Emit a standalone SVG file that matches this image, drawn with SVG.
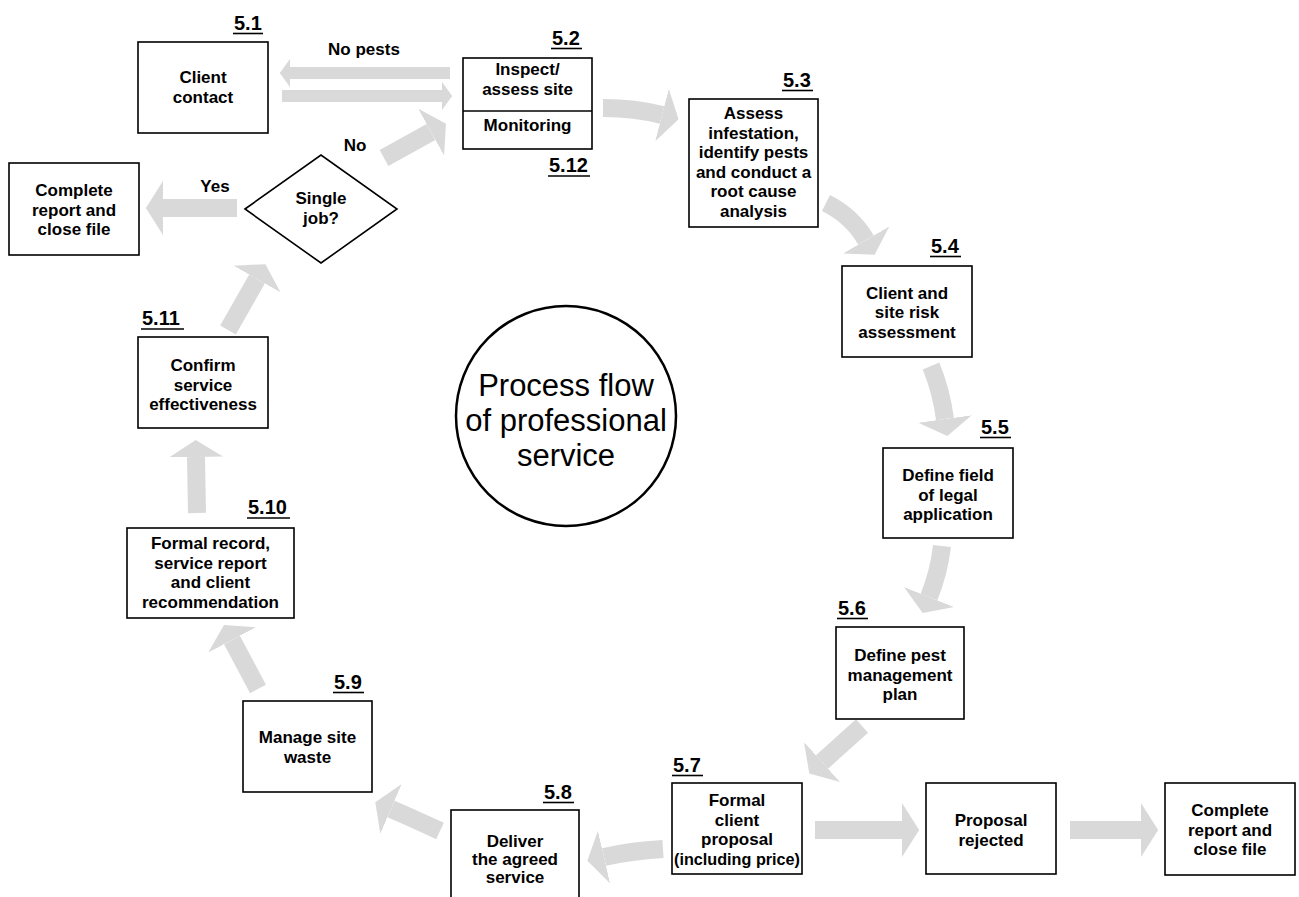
<svg xmlns="http://www.w3.org/2000/svg" width="1299" height="897" viewBox="0 0 1299 897">
<style>
.box{fill:#fff;stroke:#000;stroke-width:1.6}
.t{font-family:"Liberation Sans",Arial,sans-serif;font-size:17px;font-weight:bold;text-anchor:middle;fill:#000}
.lbl{font-family:"Liberation Sans",Arial,sans-serif;font-size:20px;font-weight:bold;fill:#000}
.ul{stroke:#000;stroke-width:1.6}
.ar{fill:none;stroke:#d9d9d9;stroke-width:18}
.as{fill:none;stroke:#d9d9d9;stroke-width:12}
.c{font-family:"Liberation Sans",Arial,sans-serif;font-size:31px;text-anchor:middle;fill:#000}
</style>
<defs>
<marker id="hb" viewBox="0 0 10 10" refX="0" refY="5" markerUnits="strokeWidth" markerWidth="0.95" markerHeight="3" orient="auto" preserveAspectRatio="none"><path d="M0,0 L10,5 L0,10 z" fill="#d9d9d9"/></marker>
<marker id="hs" viewBox="0 0 10 10" refX="0" refY="5" markerUnits="strokeWidth" markerWidth="0.85" markerHeight="2.35" orient="auto" preserveAspectRatio="none"><path d="M0,0 L10,5 L0,10 z" fill="#d9d9d9"/></marker>
</defs>
<rect width="1299" height="897" fill="#fff"/>
<g id="connectors">
<path class="as" d="M450,73 L290,73" marker-end="url(#hs)"/>
<path class="as" d="M282,96 L442,96" marker-end="url(#hs)"/>
<path class="ar" d="M603,108 Q635,108 662,115" marker-end="url(#hb)"/>
<path class="ar" d="M826,203 Q852,216 866,240" marker-end="url(#hb)"/>
<path class="ar" d="M931,366 Q941,390 945,419" marker-end="url(#hb)"/>
<path class="ar" d="M942,546 Q939,572 929,597" marker-end="url(#hb)"/>
<path class="ar" d="M862,726 L822,762" marker-end="url(#hb)"/>
<path class="ar" d="M815,830 L902,830" marker-end="url(#hb)"/>
<path class="ar" d="M1070,830 L1141,830" marker-end="url(#hb)"/>
<path class="ar" d="M663,849 Q630,851 604,857" marker-end="url(#hb)"/>
<path class="ar" d="M440,831 Q412,818 391,809" marker-end="url(#hb)"/>
<path class="ar" d="M258,689 L232,640" marker-end="url(#hb)"/>
<path class="ar" d="M197,513 L196,457" marker-end="url(#hb)"/>
<path class="ar" d="M228,330 L257,279" marker-end="url(#hb)"/>
<path class="ar" d="M237,208 L163,208" marker-end="url(#hb)"/>
<path class="ar" d="M384,158 L431,132" marker-end="url(#hb)"/>
<text class="t" x="364" y="55">No pests</text>
<text class="t" x="355" y="151">No</text>
<text class="t" x="215" y="192">Yes</text>
</g>
<g id="n51">
<rect class="box" x="138" y="42" width="130" height="91"/>
<text class="lbl" x="234" y="30">5.1</text><line class="ul" x1="233" y1="33.5" x2="263" y2="33.5"/>
<text class="t" x="203" y="83">Client</text>
<text class="t" x="203" y="102.5">contact</text>
</g>
<g id="n52">
<rect class="box" x="463" y="58" width="129" height="91"/>
<line class="ul" x1="463" y1="111" x2="592" y2="111"/>
<text class="lbl" x="552" y="45">5.2</text><line class="ul" x1="551" y1="48.5" x2="582" y2="48.5"/>
<text class="t" x="527.5" y="75">Inspect/</text>
<text class="t" x="527.5" y="94.5">assess site</text>
<text class="t" x="527.5" y="131">Monitoring</text>
<text class="lbl" x="549" y="172">5.12</text><line class="ul" x1="548" y1="176" x2="590" y2="176"/>
</g>
<g id="n53">
<rect class="box" x="689" y="99" width="129" height="128"/>
<text class="lbl" x="783" y="87">5.3</text><line class="ul" x1="782" y1="90.5" x2="813" y2="90.5"/>
<text class="t" x="753.5" y="119">Assess</text>
<text class="t" x="753.5" y="138.5">infestation,</text>
<text class="t" x="753.5" y="158">identify pests</text>
<text class="t" x="753.5" y="177.5">and conduct a</text>
<text class="t" x="753.5" y="197">root cause</text>
<text class="t" x="753.5" y="216.5">analysis</text>
</g>
<g id="n54">
<rect class="box" x="842" y="266" width="130" height="91"/>
<text class="lbl" x="931" y="253">5.4</text><line class="ul" x1="930" y1="256.5" x2="961" y2="256.5"/>
<text class="t" x="907" y="298.5">Client and</text>
<text class="t" x="907" y="318">site risk</text>
<text class="t" x="907" y="337.5">assessment</text>
</g>
<g id="n55">
<rect class="box" x="883" y="448" width="130" height="90"/>
<text class="lbl" x="981" y="434">5.5</text><line class="ul" x1="980" y1="437.5" x2="1011" y2="437.5"/>
<text class="t" x="948" y="481">Define field</text>
<text class="t" x="948" y="500.5">of legal</text>
<text class="t" x="948" y="520">application</text>
</g>
<g id="n56">
<rect class="box" x="836" y="627" width="128" height="92"/>
<text class="lbl" x="838" y="615">5.6</text><line class="ul" x1="837" y1="618.5" x2="868" y2="618.5"/>
<text class="t" x="900" y="661">Define pest</text>
<text class="t" x="900" y="680.5">management</text>
<text class="t" x="900" y="700">plan</text>
</g>
<g id="n57">
<rect class="box" x="672" y="783" width="130" height="91"/>
<text class="lbl" x="673" y="772">5.7</text><line class="ul" x1="672" y1="775.5" x2="703" y2="775.5"/>
<text class="t" x="737" y="806">Formal</text>
<text class="t" x="737" y="825.5">client</text>
<text class="t" x="737" y="845">proposal</text>
<text class="t" x="737" y="864.5" textLength="126" lengthAdjust="spacingAndGlyphs">(including price)</text>
</g>
<g id="n58">
<rect class="box" x="451" y="810" width="128" height="95"/>
<text class="lbl" x="544" y="799">5.8</text><line class="ul" x1="543" y1="802.5" x2="574" y2="802.5"/>
<text class="t" x="515" y="847">Deliver</text>
<text class="t" x="515" y="865">the agreed</text>
<text class="t" x="515" y="883">service</text>
</g>
<g id="n59">
<rect class="box" x="243" y="701" width="129" height="91"/>
<text class="lbl" x="334" y="689">5.9</text><line class="ul" x1="333" y1="692.5" x2="364" y2="692.5"/>
<text class="t" x="307.5" y="743">Manage site</text>
<text class="t" x="307.5" y="763">waste</text>
</g>
<g id="n510">
<rect class="box" x="127" y="528" width="167" height="90"/>
<text class="lbl" x="248" y="514">5.10</text><line class="ul" x1="247" y1="518" x2="290" y2="518"/>
<text class="t" x="210.5" y="549">Formal record,</text>
<text class="t" x="210.5" y="568.5">service report</text>
<text class="t" x="210.5" y="588">and client</text>
<text class="t" x="210.5" y="607.5">recommendation</text>
</g>
<g id="n511">
<rect class="box" x="138" y="337" width="130" height="91"/>
<text class="lbl" x="142" y="325">5.11</text><line class="ul" x1="141" y1="329" x2="184" y2="329"/>
<text class="t" x="203" y="371">Confirm</text>
<text class="t" x="203" y="390.5">service</text>
<text class="t" x="203" y="410">effectiveness</text>
</g>
<g id="decision">
<polygon class="box" points="245,209 321,155 397,209 321,263"/>
<text class="t" x="321" y="204">Single</text>
<text class="t" x="321" y="224">job?</text>
</g>
<g id="closeLeft">
<rect class="box" x="9" y="163" width="130" height="92"/>
<text class="t" x="74" y="196">Complete</text>
<text class="t" x="74" y="215.5">report and</text>
<text class="t" x="74" y="235">close file</text>
</g>
<g id="rejected">
<rect class="box" x="926" y="783" width="130" height="91"/>
<text class="t" x="991" y="826">Proposal</text>
<text class="t" x="991" y="845.5">rejected</text>
</g>
<g id="closeRight">
<rect class="box" x="1165" y="783" width="130" height="92"/>
<text class="t" x="1230" y="816">Complete</text>
<text class="t" x="1230" y="835.5">report and</text>
<text class="t" x="1230" y="855">close file</text>
</g>
<g id="center">
<circle cx="566" cy="416" r="110" fill="#fff" stroke="#000" stroke-width="2.5"/>
<text class="c" x="566" y="396">Process flow</text>
<text class="c" x="566" y="431">of professional</text>
<text class="c" x="566" y="466">service</text>
</g>
</svg>
